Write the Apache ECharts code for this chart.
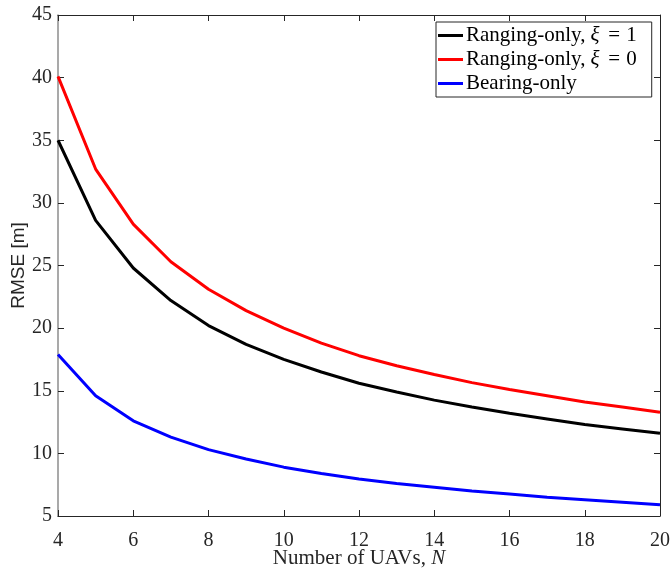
<!DOCTYPE html>
<html>
<head>
<meta charset="utf-8">
<script src="https://cdn.jsdelivr.net/npm/echarts@6/dist/echarts.min.js"></script>
<style>html,body{margin:0;padding:0;background:#fff;}#c{width:671px;height:568px;}</style>
</head>
<body>
<div id="c"></div>
<script>
const N = [4,5,6,7,8,9,10,11,12,13,14,15,16,17,18,19,20];
const rangingXi1 = [35.0,28.6,24.8,22.2,20.2,18.7,17.5,16.5,15.6,14.9,14.25,13.7,13.2,12.75,12.3,11.95,11.6];
const rangingXi0 = [40.1,32.7,28.3,25.3,23.1,21.4,20.0,18.8,17.8,17.0,16.3,15.65,15.1,14.6,14.1,13.7,13.28];
const bearingOnly = [17.9,14.6,12.6,11.3,10.3,9.55,8.9,8.4,7.95,7.6,7.3,7.0,6.75,6.5,6.3,6.1,5.9];
const seriesNames = ['Ranging-only, \u03be = 1','Ranging-only, \u03be = 0','Bearing-only'];
const seriesColors = ['#000000','#ff0000','#0000ff'];
const seriesData = [rangingXi1, rangingXi0, bearingOnly];

const chart = echarts.init(document.getElementById('c'));
const serif = 'Liberation Serif';
const tickLabel = {fontFamily: serif, fontSize: 20, color: '#262626'};
const legendRich = {
  n: {fontFamily: serif, fontSize: 21, color: '#000'},
  i: {fontFamily: serif, fontSize: 21, fontStyle: 'italic', color: '#000', padding: [0, 4, 0, 5]},
  e: {fontFamily: serif, fontSize: 21, color: '#000', padding: [0, 6, 0, 5]}
};
chart.setOption({
  animation: false,
  backgroundColor: '#fff',
  grid: {left: 58, right: 11, top: 15, bottom: 52, outerBoundsMode: 'none', containLabel: false},
  legend: {
    orient: 'vertical', left: 436, top: 22,
    backgroundColor: '#fff', borderColor: '#262626', borderWidth: 1,
    padding: [2, 15, 2, 2], itemGap: 1, itemWidth: 25, itemHeight: 3,
    icon: 'rect',
    data: seriesNames,
    formatter: function (name) {
      if (name.indexOf('\u03be') >= 0) {
        const parts = name.split('\u03be = ');
        return '{n|' + parts[0].trim() + '}{i|\u03be}{e|=}{n|' + parts[1] + '}';
      }
      return '{n|' + name + '}';
    },
    textStyle: {rich: legendRich, lineHeight: 23, padding: [0, 0, 0, -2]}
  },
  xAxis: [{
    type: 'value', min: 4, max: 20, interval: 2, position: 'bottom',
    axisLine: {lineStyle: {color: '#262626', width: 1}},
    axisTick: {inside: true, length: 6, lineStyle: {color: '#262626'}},
    axisLabel: Object.assign({margin: 15}, tickLabel),
    splitLine: {show: false},
    name: '{n|Number of UAVs, }{i|N}', nameLocation: 'middle', nameGap: 32,
    nameMoveOverlap: false,
    nameTextStyle: {rich: {
      n: {fontFamily: serif, fontSize: 21, color: '#262626'},
      i: {fontFamily: serif, fontSize: 21, fontStyle: 'italic', color: '#262626'}
    }}
  }, {
    type: 'value', min: 4, max: 20, interval: 2, position: 'top',
    axisLine: {show: true, lineStyle: {color: '#262626', width: 1}},
    axisTick: {show: true, inside: true, length: 6, lineStyle: {color: '#262626'}},
    axisLabel: {show: false}, splitLine: {show: false}
  }],
  yAxis: [{
    type: 'value', min: 5, max: 45, interval: 5, position: 'left',
    axisLine: {show: true, lineStyle: {color: '#8c8c8c', width: 1.5}},
    axisTick: {show: true, inside: true, length: 6, lineStyle: {color: '#262626'}},
    axisLabel: Object.assign({margin: 6}, tickLabel),
    splitLine: {show: false},
    name: 'RMSE [m]', nameLocation: 'middle', nameRotate: 90, nameGap: 30,
    nameMoveOverlap: false,
    nameTextStyle: {fontFamily: 'Liberation Sans', fontSize: 19, color: '#262626'}
  }, {
    type: 'value', min: 5, max: 45, interval: 5, position: 'right',
    axisLine: {show: true, lineStyle: {color: '#262626', width: 1}},
    axisTick: {show: true, inside: true, length: 6, lineStyle: {color: '#262626'}},
    axisLabel: {show: false}, splitLine: {show: false}
  }],
  series: seriesData.map(function (d, k) {
    return {
      name: seriesNames[k], type: 'line', xAxisIndex: 0, yAxisIndex: 0,
      data: N.map(function (n, j) { return [n, d[j]]; }),
      showSymbol: false, symbol: 'none',
      lineStyle: {color: seriesColors[k], width: 3},
      itemStyle: {color: seriesColors[k]},
      z: 3 - k
    };
  })
});
</script>
</body>
</html>
